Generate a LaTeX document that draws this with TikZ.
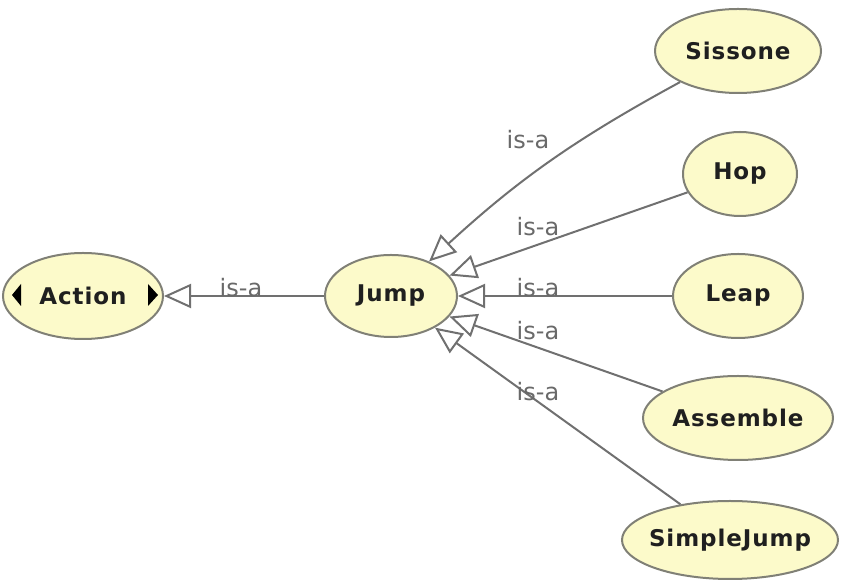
\documentclass[tikz,border=0pt]{standalone}
\usepackage{fontspec}
\setmainfont{DejaVu Sans}
\newfontfamily\classfont[LetterSpace=4]{DejaVu Sans}
\usetikzlibrary{shapes.geometric,arrows.meta}
\definecolor{classfill}{RGB}{252,250,202}
\definecolor{classline}{RGB}{128,128,118}
\definecolor{edgeline}{RGB}{112,112,112}
\definecolor{relgray}{RGB}{105,105,105}
\begin{document}
\begin{tikzpicture}[x=0.5pt,y=-0.5pt,
  classbox/.style={ellipse, draw=classline, fill=classfill, line width=1pt, inner sep=0pt},
  classtext/.style={font=\classfont\bfseries\fontsize{11.5}{13}\selectfont, text=black!88, inner sep=0pt},
  isa/.style={draw=edgeline, line width=1pt,
    -{Triangle[open, length=13.5pt, width=12pt, fill=white]}},
  rel/.style={text=relgray, font=\fontsize{12}{14}\selectfont, inner sep=0pt}]
\useasboundingbox (0,0) rectangle (847,581);

% classes
\node[classbox, minimum width=80pt, minimum height=43pt,
  label={[classtext]center:Action}] (Action) at (83,296) {};
\node[classbox, minimum width=66pt, minimum height=41pt,
  label={[classtext]center:Jump}] (Jump) at (391,296) {};
\node[classbox, minimum width=83pt, minimum height=42pt,
  label={[classtext]center:Sissone}] (Sissone) at (738,51) {};
\node[classbox, minimum width=57pt, minimum height=42pt,
  label={[classtext]center:Hop}] (Hop) at (740,174) {};
\node[classbox, minimum width=65pt, minimum height=42pt,
  label={[classtext]center:Leap}] (Leap) at (738,296) {};
\node[classbox, minimum width=95pt, minimum height=42pt,
  label={[classtext]center:Assemble}] (Assemble) at (738,418) {};
\node[classbox, minimum width=108pt, minimum height=39pt,
  label={[classtext]center:SimpleJump}] (SimpleJump) at (730,540) {};

% expand markers on Action
\fill[black] (12,295) -- (21,284) -- (21,306) -- cycle;
\fill[black] (158,295) -- (148,284) -- (148,306) -- cycle;

% subclass relations
\draw[isa] (Sissone) to[bend right=7] (Jump);
\draw[isa] (Hop) -- (Jump);
\draw[isa] (Leap) -- (Jump);
\draw[isa] (Assemble) -- (Jump);
\draw[isa] (SimpleJump) -- (Jump);
\draw[isa] (Jump) -- (Action);

% relation labels
\node[rel] (l0) at (241,288) {is-a};
\node[rel] (l1) at (528,140) {is-a};
\node[rel] (l2) at (538,227) {is-a};
\node[rel] (l3) at (538,288) {is-a};
\node[rel] (l4) at (538,331) {is-a};
\node[rel] (l5) at (538,392) {is-a};
\end{tikzpicture}
\end{document}
